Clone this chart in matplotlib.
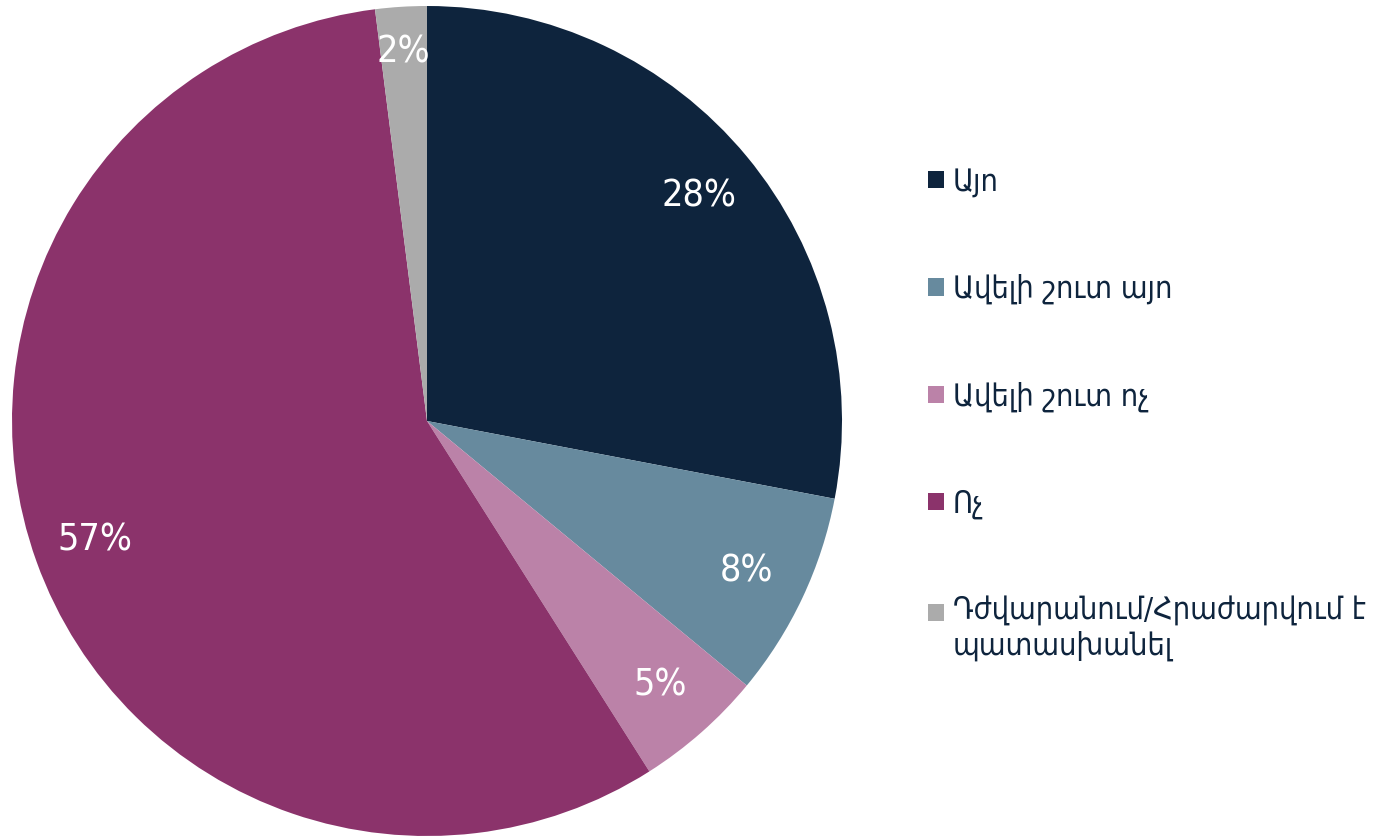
import numpy as np
import matplotlib
matplotlib.use("Agg")
import matplotlib.pyplot as plt

# data
labels = ["Այո", "Ավելի շուտ այո", "Ավելի շուտ ոչ", "Ոչ",
          "Դժվարանում/Հրաժարվում է\nպատասխանել"]
values = [28, 8, 5, 57, 2]
colors = ["#0E243D", "#678A9E", "#BB82A8", "#8B336B", "#ABABAB"]

fig = plt.figure(figsize=(13.99, 8.36), dpi=100)
# pie axes: square, left side of the figure
ax = fig.add_axes([12 / 1399, 0.0, 830 / 1399, 830 / 836])

wedges, texts, autotexts = ax.pie(
    values, colors=colors, startangle=90, counterclock=False,
    autopct=lambda p: f"{p:.0f}%", pctdistance=0.85, radius=1.0,
    textprops=dict(color="white", fontsize=27, fontstretch="condensed",
                   family=["DejaVu Sans"]))

# the small 2% label sits a bit further out
x, y = autotexts[4].get_position()
autotexts[4].set_position((x * 0.89 / 0.85, y * 0.89 / 0.85))

ax.set_xlim(-1, 1)
ax.set_ylim(-1, 1)
ax.set_aspect("equal")

leg = fig.legend(wedges, labels, loc="upper left",
                 bbox_to_anchor=(916 / 1399, 1 - 155 / 836),
                 frameon=False, fontsize=22, handlelength=0.5,
                 handleheight=0.5, handletextpad=0.3, labelspacing=2.53,
                 borderaxespad=0)
for t in leg.get_texts():
    t.set_color("#0E243D")
    t.set_family(["DejaVu Sans"])
    t.set_stretch("condensed")

# two-line entry: put its marker next to the first line
h = leg.legend_handles[-1]
h.set_y(h.get_y() + 12)

fig.savefig("out.png", dpi=100)
